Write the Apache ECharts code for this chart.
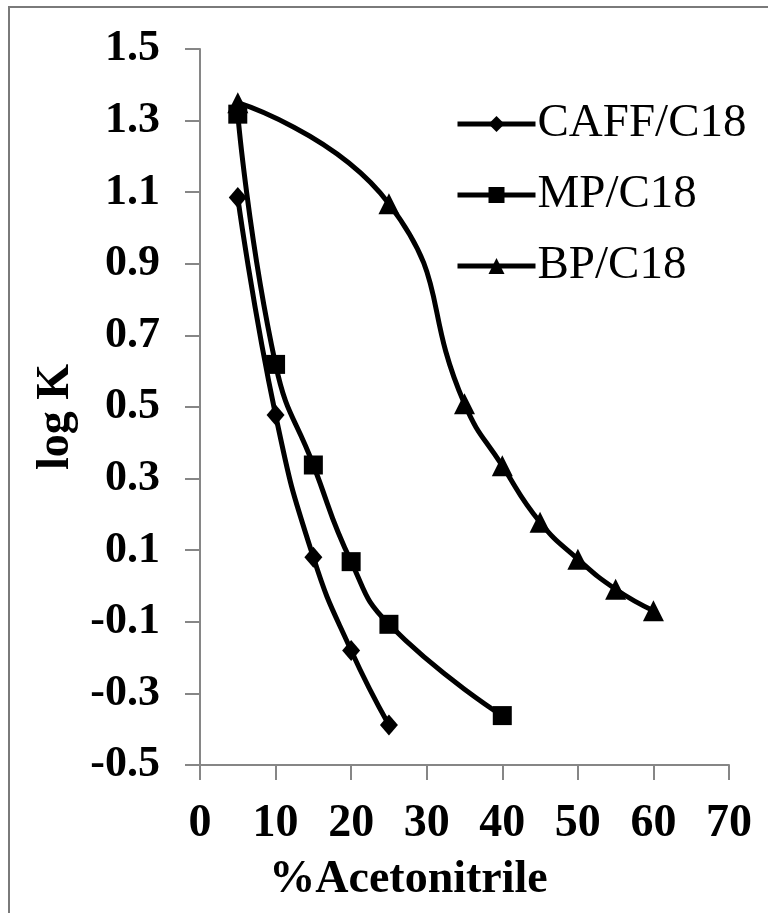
<!DOCTYPE html>
<html>
<head>
<meta charset="utf-8">
<script src="https://cdn.jsdelivr.net/npm/echarts@6/dist/echarts.min.js"></script>
<style>
  html, body { margin: 0; padding: 0; background: #fff; }
  #chart { width: 768px; height: 913px; }
</style>
</head>
<body>
<div id="chart"></div>
<script>
// % acetonitrile vs log K, three solutes on C18
const caffX = [5, 10, 15, 20, 25];
const caffY = [1.085, 0.478, 0.08, -0.18, -0.388];
const mpX = [5, 10, 15, 20, 25, 40];
const mpY = [1.318, 0.619, 0.338, 0.068, -0.107, -0.362];
const bpX = [5, 25, 35, 40, 45, 50, 55, 60];
const bpY = [1.35, 1.068, 0.509, 0.336, 0.178, 0.075, -0.009, -0.069];

const seriesNames = ['CAFF/C18', 'MP/C18', 'BP/C18'];
const yTickLabels = ['-0.5', '-0.3', '-0.1', '0.1', '0.3', '0.5', '0.7', '0.9', '1.1', '1.3', '1.5'];

const serif = '"Liberation Serif", "Times New Roman", serif';
const axisGray = '#868686';

const zip = (xs, ys) => xs.map((x, i) => [x, ys[i]]);

const chart = echarts.init(document.getElementById('chart'));

const lineSeries = (name, data, symbol, size) => ({
  name,
  type: 'line',
  data,
  smooth: 0.5,
  symbol,
  symbolSize: size,
  showAllSymbol: true,
  lineStyle: { color: '#000', width: 5 },
  itemStyle: { color: '#000' },
  emphasis: { disabled: true },
});

chart.setOption({
  animation: false,
  backgroundColor: '#fff',
  graphic: [
    {
      type: 'polyline',
      shape: { points: [[9, 913], [9, 7], [768, 7]] },
      style: { stroke: '#7a7a7a', lineWidth: 2, fill: null },
      silent: true,
    },
  ],
  grid: { left: 200, right: 39, top: 49, bottom: 148 },
  legend: {
    orient: 'vertical',
    left: 450,
    top: 94,
    itemWidth: 78,
    itemHeight: 20,
    itemGap: 21,
    data: seriesNames,
    lineStyle: { width: 5 },
    textStyle: {
      fontFamily: serif,
      fontSize: 47,
      lineHeight: 50,
      color: '#000',
      padding: [0, 0, 0, -3],
    },
  },
  xAxis: {
    type: 'value',
    min: 0,
    max: 70,
    interval: 10,
    name: '%Acetonitrile',
    nameLocation: 'middle',
    nameGap: 92,
    nameTextStyle: { fontFamily: serif, fontSize: 46, fontWeight: 'bold', color: '#000', padding: [0, 112, 0, 0] },
    axisLine: { onZero: false, lineStyle: { color: axisGray, width: 2 } },
    axisTick: { show: true, length: 15, lineStyle: { color: axisGray, width: 2 } },
    axisLabel: { fontFamily: serif, fontSize: 46, fontWeight: 'bold', color: '#000', margin: 36 },
    splitLine: { show: false },
  },
  yAxis: {
    type: 'value',
    min: -0.5,
    max: 1.5,
    interval: 0.2,
    name: 'log K',
    nameLocation: 'middle',
    nameGap: 120,
    nameRotate: 90,
    nameTextStyle: { fontFamily: serif, fontSize: 46, fontWeight: 'bold', color: '#000', padding: [0, 20, 0, 0] },
    axisLine: { show: true, lineStyle: { color: axisGray, width: 2 } },
    axisTick: { show: true, length: 15, lineStyle: { color: axisGray, width: 2 } },
    axisLabel: {
      fontFamily: serif,
      fontSize: 44,
      fontWeight: 'bold',
      color: '#000',
      margin: 40,
      formatter: (v) => {
        const i = Math.round((v + 0.5) / 0.2);
        return yTickLabels[i] !== undefined ? yTickLabels[i] : '';
      },
    },
    splitLine: { show: false },
  },
  series: [
    lineSeries(seriesNames[0], zip(caffX, caffY), 'diamond', [18, 21]),
    lineSeries(seriesNames[1], zip(mpX, mpY), 'rect', 19),
    lineSeries(seriesNames[2], zip(bpX, bpY), 'triangle', 21),
  ],
});
</script>
</body>
</html>
